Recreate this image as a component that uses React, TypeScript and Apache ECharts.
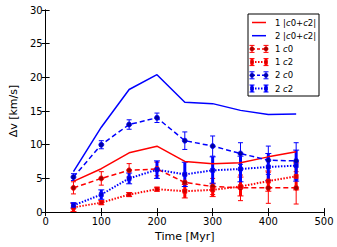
import React, { useEffect, useRef } from "react";
import * as echarts from "echarts";

const times = [50, 100, 150, 200, 250, 300, 350, 400, 450];
const red_total = [4.57, 6.44, 8.8, 9.78, 7.52, 7.17, 7.32, 8.2, 8.95];
const blue_total = [6.0, 12.6, 18.2, 20.4, 16.3, 16.1, 15.1, 14.5, 14.55];
const red_c0 = [3.6, 5.0, 6.2, 6.4, 4.4, 3.8, 3.6, 3.6, 3.6];
const red_c0_err = [0.9, 1.0, 1.0, 1.0, 1.1, 1.2, 1.9, 2.3, 2.4];
const red_c2 = [0.7, 1.4, 2.6, 3.4, 3.1, 3.3, 3.8, 4.6, 5.3];
const red_c2_err = [0.6, 0.3, 0.3, 0.3, 1.0, 1.0, 1.4, 1.5, 2.0];
const blue_c0 = [5.2, 10.0, 13.0, 14.0, 10.6, 9.8, 8.7, 7.7, 7.6];
const blue_c0_err = [0.5, 0.6, 0.7, 0.7, 1.3, 1.5, 1.6, 2.1, 2.7];
const blue_c2 = [1.0, 2.6, 5.0, 6.3, 5.6, 6.2, 6.4, 6.7, 6.9];
const blue_c2_err = [0.4, 0.7, 0.8, 1.3, 1.8, 2.0, 1.9, 2.0, 2.3];

const legendLabels = ["1 |c0+c2|", "2 |c0+c2|", "1 c0", "1 c2", "2 c0", "2 c2"];

const RED = "#ff0000";
const BLUE = "#0000ff";

function pts(v: number[]) {
  return times.map((t, i) => [t, v[i]]);
}
function errData(v: number[], e: number[]) {
  return times.map((t, i) => [t, v[i] - e[i], v[i] + e[i]]);
}

function errSeries(v: number[], e: number[], color: string, w: number, cap: number) {
  return {
    type: "custom",
    data: errData(v, e),
    z: 4,
    renderItem: (params: any, api: any) => {
      const x = api.value(0);
      const p1 = api.coord([x, api.value(1)]);
      const p2 = api.coord([x, api.value(2)]);
      const st = { stroke: color, lineWidth: w };
      return {
        type: "group",
        children: [
          { type: "line", shape: { x1: p1[0], y1: p1[1], x2: p2[0], y2: p2[1] }, style: st },
          { type: "line", shape: { x1: p1[0] - cap, y1: p1[1], x2: p1[0] + cap, y2: p1[1] }, style: { stroke: color, lineWidth: 1 } },
          { type: "line", shape: { x1: p2[0] - cap, y1: p2[1], x2: p2[0] + cap, y2: p2[1] }, style: { stroke: color, lineWidth: 1 } },
        ],
      };
    },
  };
}

function lineSeries(v: number[], color: string, type: any, width: number, symbol: string, symbolSize: number, fill: string) {
  return {
    type: "line",
    data: pts(v),
    z: 5,
    symbol,
    symbolSize,
    showSymbol: symbol !== "none",
    itemStyle: { color: fill, borderColor: color, borderWidth: 0.8 },
    lineStyle: { color, width, type },
  };
}

function legendRow(i: number, kind: string, color: string, fill: string) {
  const y = 22.5 + i * 13.2;
  const x1 = 252, x2 = 266;
  const children: any[] = [];
  if (kind === "solid") {
    children.push({ type: "line", shape: { x1, y1: y, x2, y2: y }, style: { stroke: color, lineWidth: 1.5 } });
  } else {
    const dotted = kind === "dotted";
    children.push({
      type: "line",
      shape: { x1, y1: y, x2, y2: y },
      style: { stroke: color, lineWidth: dotted ? 2 : 1.5, lineDash: dotted ? [1.5, 1.5] : [3, 2] },
    });
    [x1, x2].forEach((xx) => {
      children.push({ type: "line", shape: { x1: xx, y1: y - 3.5, x2: xx, y2: y + 3.5 }, style: { stroke: color, lineWidth: dotted ? 3 : 1 } });
      children.push({ type: "line", shape: { x1: xx - 2.5, y1: y - 3.5, x2: xx + 2.5, y2: y - 3.5 }, style: { stroke: color, lineWidth: 1 } });
      children.push({ type: "line", shape: { x1: xx - 2.5, y1: y + 3.5, x2: xx + 2.5, y2: y + 3.5 }, style: { stroke: color, lineWidth: 1 } });
      if (dotted) {
        children.push({ type: "rect", shape: { x: xx - 1.5, y: y - 1.5, width: 3, height: 3 }, style: { fill, stroke: color, lineWidth: 0.5 } });
      } else {
        children.push({ type: "circle", shape: { cx: xx, cy: y, r: 2.2 }, style: { fill, stroke: color, lineWidth: 0.5 } });
      }
    });
  }
  const label = legendLabels[i];
  const parts = label.split(" ");
  const mathPart = parts[1].replace(/c/g, "{i|c}");
  children.push({
    type: "text",
    x: 275,
    y,
    style: {
      text: parts[0] + " " + mathPart,
      fontFamily: "DejaVu Sans",
      fontSize: 8.5,
      fill: "#000",
      verticalAlign: "middle",
      rich: { i: { fontStyle: "italic", fontFamily: "DejaVu Sans", fontSize: 8.5, fill: "#000" } },
    },
  });
  return children.map((c) => ({ ...c, z: 101 }));
}

export default function App() {
  const ref = useRef<HTMLDivElement>(null);
  useEffect(() => {
    if (!ref.current) return;
    const chart = echarts.init(ref.current, null, { renderer: "svg" });
    const axisCommon = {
      axisLine: { show: true, lineStyle: { color: "#000", width: 1 } },
      axisTick: { show: true, inside: true, length: 4, lineStyle: { color: "#000" } },
      splitLine: { show: false },
    };
    const option: any = {
      animation: false,
      backgroundColor: "#fff",
      grid: { left: 42, right: 13, top: 10, bottom: 33 },
      xAxis: [
        {
          type: "value", min: 0, max: 500, interval: 100, position: "bottom",
          ...axisCommon,
          axisLabel: { color: "#000", fontSize: 10, fontFamily: "DejaVu Sans", margin: 4 },
          name: "Time [Myr]", nameLocation: "middle", nameGap: 12,
          nameTextStyle: { color: "#000", fontSize: 11, fontFamily: "DejaVu Sans", fontWeight: "normal" },
        },
        { type: "value", min: 0, max: 500, interval: 100, position: "top", ...axisCommon, axisLabel: { show: false } },
      ],
      yAxis: [
        {
          type: "value", min: 0, max: 30, interval: 5, position: "left",
          ...axisCommon,
          axisLabel: { color: "#000", fontSize: 10, fontFamily: "DejaVu Sans", margin: 3 },
          name: "Δv [km/s]", nameLocation: "middle", nameGap: 18,
          nameTextStyle: { color: "#000", fontSize: 11, fontFamily: "DejaVu Sans", fontWeight: "normal" },
        },
        { type: "value", min: 0, max: 30, interval: 5, position: "right", ...axisCommon, axisLabel: { show: false } },
      ],
      series: [
        lineSeries(red_total, RED, "solid", 1.5, "none", 0, RED),
        lineSeries(blue_total, BLUE, "solid", 1.5, "none", 0, BLUE),
        errSeries(red_c0, red_c0_err, RED, 1, 2.5),
        lineSeries(red_c0, RED, [5, 3], 1.5, "circle", 5, "#a00000"),
        errSeries(red_c2, red_c2_err, RED, 3, 3),
        lineSeries(red_c2, RED, [1.5, 1.5], 2, "rect", 4, "#d00000"),
        errSeries(blue_c0, blue_c0_err, BLUE, 1, 2.5),
        lineSeries(blue_c0, BLUE, [5, 3], 1.5, "circle", 5, "#0000a0"),
        errSeries(blue_c2, blue_c2_err, BLUE, 3, 3),
        lineSeries(blue_c2, BLUE, [1.5, 1.5], 2, "rect", 4, "#0000d0"),
      ],
      graphic: [
        {
          type: "rect",
          shape: { x: 248, y: 14, width: 71, height: 82 },
          style: { fill: "#fff", stroke: "#000", lineWidth: 1 },
          z: 100,
        },
        ...legendRow(0, "solid", RED, RED),
        ...legendRow(1, "solid", BLUE, BLUE),
        ...legendRow(2, "dashed", RED, "#a00000"),
        ...legendRow(3, "dotted", RED, "#d00000"),
        ...legendRow(4, "dashed", BLUE, "#0000a0"),
        ...legendRow(5, "dotted", BLUE, "#0000d0"),
      ],
    };
    chart.setOption(option);
    return () => chart.dispose();
  }, []);
  return <div ref={ref} style={{ width: 337, height: 247, position: "absolute", left: 0, top: 0 }} />;
}
